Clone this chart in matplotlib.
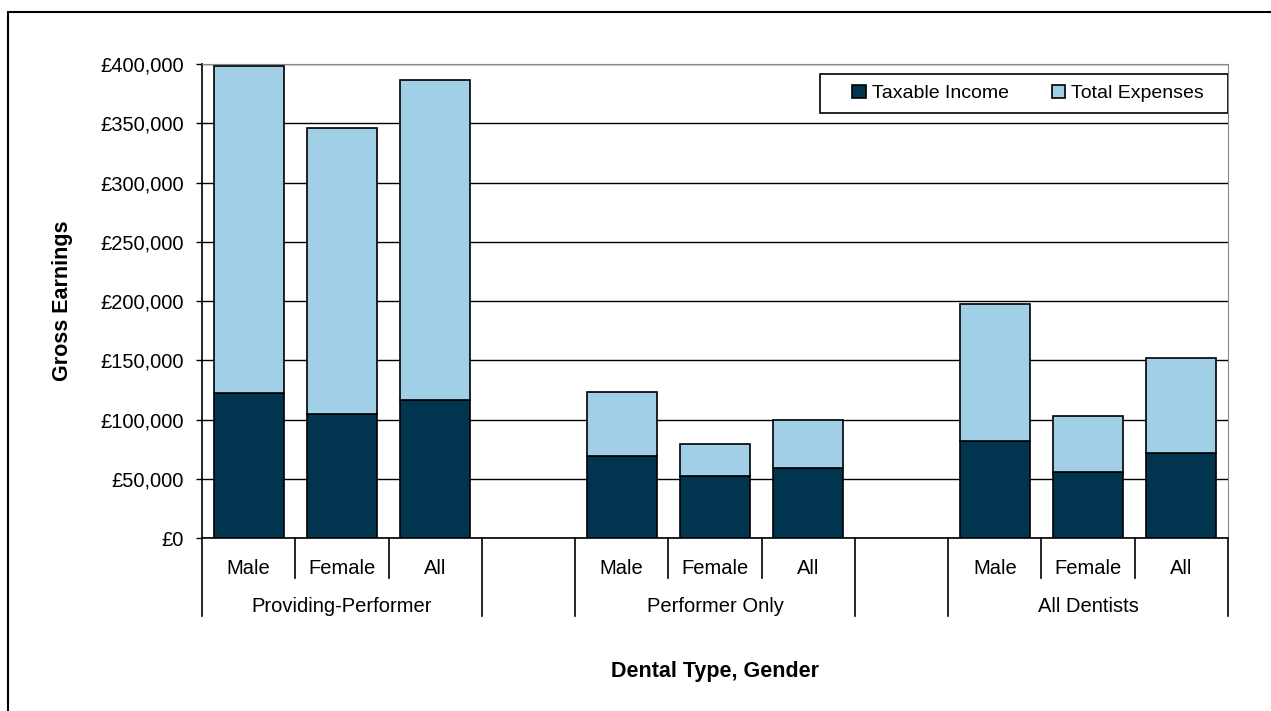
import matplotlib.pyplot as plt
import matplotlib.patches as mpatches
import matplotlib.transforms as mtransforms
from matplotlib.ticker import FuncFormatter

plt.rcParams['font.family'] = ['Liberation Sans', 'DejaVu Sans']

groups = ['Providing-Performer', '', 'Performer Only', '', 'All Dentists']
genders = ['Male', 'Female', 'All']
taxable = [122000, 104900, 116700, 68900, 52300, 59100, 82200, 56000, 71400]
expenses = [276600, 241100, 270000, 54300, 27000, 40500, 114900, 47200, 80500]

dark = '#00344F'
light = '#A0CFE7'

# slots: 3 bars, a blank, 3 bars, a blank, 3 bars
pos = [0, 1, 2, 4, 5, 6, 8, 9, 10]
labels = genders * 3

fig = plt.figure(figsize=(12.71, 7.11), dpi=100)
ax = fig.add_axes([202 / 1271, 1 - 538 / 711, 1026 / 1271, 474 / 711])

# outer chart frame
fig.patches.append(mpatches.Rectangle((8 / 1271, -0.05), 1.1, (711 - 12) / 711 + 0.05,
                                      transform=fig.transFigure, fill=False,
                                      edgecolor='black', lw=1.5))

ax.bar(pos, taxable, width=0.75, color=dark, edgecolor='black', lw=1.2,
       label='Taxable Income', zorder=3)
ax.bar(pos, expenses, width=0.75, bottom=taxable, color=light, edgecolor='black',
       lw=1.2, label='Total Expenses', zorder=3)

ax.set_xlim(-0.5, 10.5)
ax.set_ylim(0, 400000)
ax.set_yticks(range(0, 400001, 50000))
ax.yaxis.set_major_formatter(FuncFormatter(lambda v, p: '£{:,.0f}'.format(v)))
ax.yaxis.grid(True, color='black', lw=1)
ax.set_axisbelow(True)
ax.tick_params(axis='y', direction='out', length=4, width=1, pad=9, labelsize=14.5)
ax.set_xticks([])

for s in ['top', 'right']:
    ax.spines[s].set_color('#888888')
ax.spines['left'].set_color('black')
ax.spines['bottom'].set_color('black')
ax.spines['left'].set_linewidth(1.2)
ax.spines['bottom'].set_linewidth(1.2)

# two-level category axis
trans = mtransforms.blended_transform_factory(ax.transData, ax.transAxes)
lvl1 = -40 / 474
lvl2 = -78 / 474
long_edges = [-0.5, 2.5, 3.5, 6.5, 7.5, 10.5]
for i in range(12):
    b = i - 0.5
    y0 = lvl2 if b in long_edges else lvl1
    ax.plot([b, b], [0, y0], color='black', lw=1.2, transform=trans, clip_on=False)

for p, lab in zip(pos, labels):
    ax.text(p, -30 / 474, lab, transform=trans, ha='center', va='center', fontsize=14.5)

for g, name in enumerate(groups):
    if name:
        ax.text(g * 2 + 1, -68 / 474, name, transform=trans,
                ha='center', va='center', fontsize=14.5)

ax.set_ylabel('Gross Earnings', fontsize=15.5, fontweight='bold', labelpad=20)
fig.text(715 / 1271, 1 - 672 / 711, 'Dental Type, Gender', ha='center', va='center',
         fontsize=15.5, fontweight='bold')

# legend box drawn by hand so its padding matches
ax.add_patch(mpatches.Rectangle(((820 - 202) / 1026, (538 - 113) / 474), 408 / 1026, 39 / 474,
                                transform=ax.transAxes, facecolor='white',
                                edgecolor='black', lw=1.2, zorder=4))
leg = ax.legend(loc='center', bbox_to_anchor=((1028 - 202) / 1026, (538 - 93.5) / 474), ncol=2,
                frameon=False, fontsize=14,
                handlelength=0.7, handleheight=0.7, handletextpad=0.3,
                columnspacing=2.2, borderpad=0, borderaxespad=0)
leg.set_zorder(5)

fig.savefig('out.png', dpi=100)
